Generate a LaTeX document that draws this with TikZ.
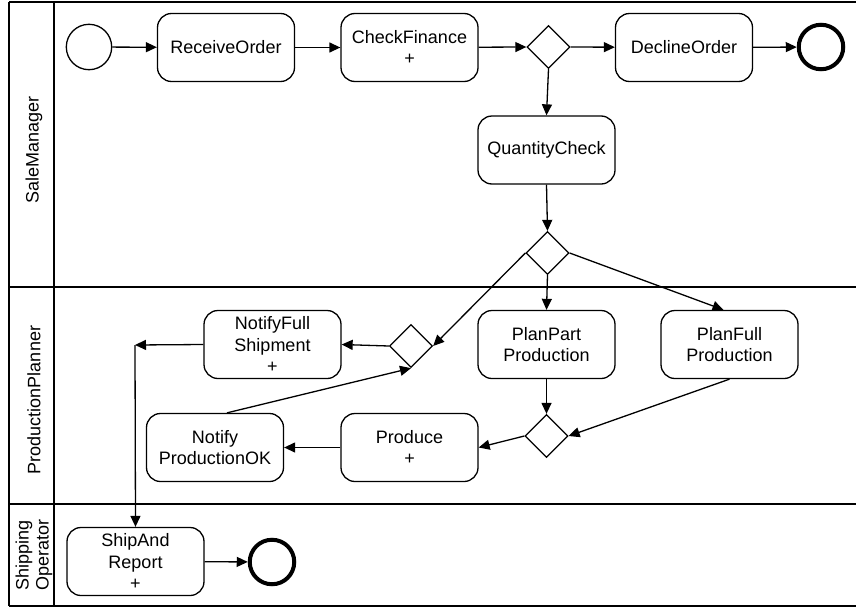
\documentclass[tikz,border=0pt]{standalone}
\usepackage{fontspec}
\setmainfont{Liberation Sans}
\usetikzlibrary{shapes.geometric,arrows.meta}
\begin{document}
\begin{tikzpicture}[x=1pt,y=-1pt,
  task/.style={draw, line width=1.3pt, rounded corners=14pt, minimum width=137pt, minimum height=68pt, align=center, inner sep=0pt, font=\fontsize{18}{21.6}\selectfont},
  gate/.style={draw, diamond, line width=1.3pt, minimum width=43pt, minimum height=43pt, inner sep=0pt},
  startev/.style={draw, circle, line width=1.3pt, minimum size=45.4pt, inner sep=0pt},
  endev/.style={draw, circle, line width=4pt, minimum size=44.5pt, inner sep=0pt},
  flow/.style={line width=1.3pt, -{Triangle[length=11pt,width=10pt]}},
  lane/.style={line width=2pt},
  lanelabel/.style={rotate=90, align=center, inner sep=0pt, font=\fontsize{18}{20}\selectfont}
]
\clip (0,0) rectangle (856,608);
% pool and lanes
\draw[lane] (9,2) -- (862,2);
\draw[lane] (9,606) -- (862,606);
\draw[lane] (9,2) -- (9,606);
\draw[lane] (54,2) -- (54,606);
\draw[lane] (9,287) -- (862,287);
\draw[lane] (9,504) -- (862,504);
\node[lanelabel] (l1) at (34,150) {SaleManager};
\node[lanelabel] (l2) at (34,400) {ProductionPlanner};
\node[lanelabel] (l3) at (34,555) {Shipping\\Operator};

% SaleManager lane
\node[startev] (start) at (89,47) {};
\node[task] (recv) at (226,47.5) {ReceiveOrder};
\node[task] (check) at (409.5,47.5) {CheckFinance\\+};
\node[gate] (gw1) at (548.5,47) {};
\node[task] (decline) at (684,47.5) {DeclineOrder};
\node[endev] (end1) at (821,47) {};
\node[task] (qty) at (546.5,150) {QuantityCheck};
\node[gate] (gw2) at (547.5,253) {};

% ProductionPlanner lane
\node[task] (planpart) at (546.5,344.5) {PlanPart\\Production};
\node[task] (planfull) at (729.5,344.5) {PlanFull\\Production};
\node[gate] (gw3) at (546.5,436) {};
\node[task] (produce) at (409.5,447.5) {Produce\\+};
\node[task] (notifyok) at (215,447.5) {Notify\\ProductionOK};
\node[task] (nfs) at (272.5,344.5) {NotifyFull\\Shipment\\+};
\node[gate] (gw4) at (411,346) {};
\coordinate (corner) at (135,345);

% Shipping Operator lane
\node[task] (ship) at (135.5,561.5) {ShipAnd\\Report\\+};
\node[endev] (end2) at (272,562) {};

% flows
\draw[flow] (start) -- (recv);
\draw[flow] (recv) -- (check);
\draw[flow] (check) -- (gw1.west);
\draw[flow] (gw1.east) -- (decline);
\draw[flow] (decline) -- (end1);
\draw[flow] (gw1.south) -- (qty.north);
\draw[flow] (qty.south) -- (gw2.north);
\draw[flow] (gw2.west) -- (gw4.east);
\draw[flow] (gw2.south) -- (planpart.north);
\draw[flow] (gw2.east) -- ([xshift=-6pt]planfull.north);
\draw[flow] (planpart.south) -- (gw3.north);
\draw[flow] (planfull.south) -- (gw3.east);
\draw[flow] (gw3.west) -- (produce.east);
\draw[flow] (produce.west) -- (notifyok.east);
\draw[flow] ([xshift=12pt]notifyok.north) -- (gw4.south);
\draw[flow] (gw4.west) -- (nfs.east);
\draw[flow] (nfs.west) -- (corner);
\draw[flow] (corner) -- (ship.north);
\draw[flow] (ship) -- (end2);
\end{tikzpicture}
\end{document}
